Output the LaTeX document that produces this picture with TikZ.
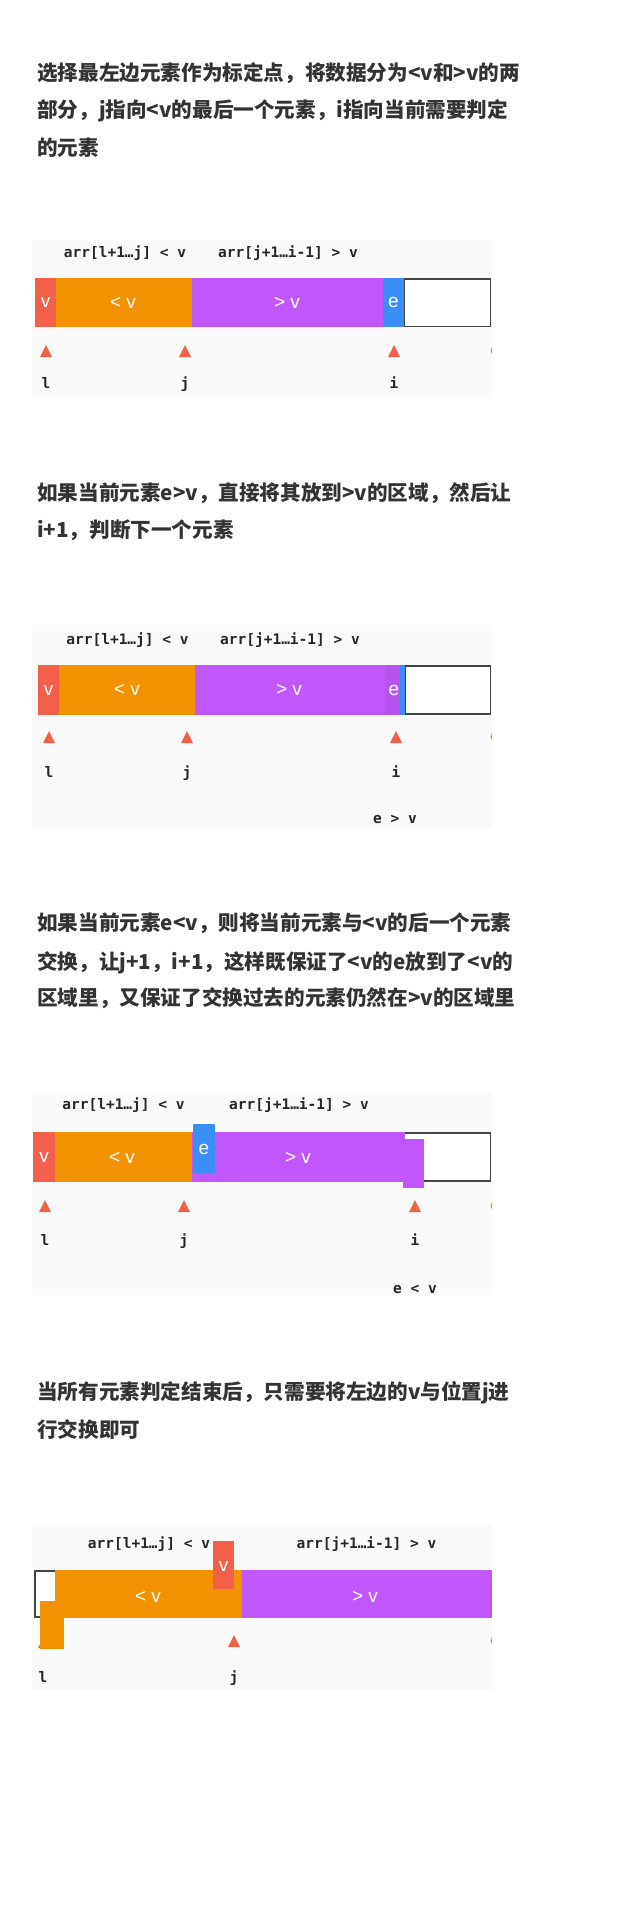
\documentclass[tikz,border=0pt]{standalone}
\usepackage{fontspec}
\newfontfamily\cjk{Noto Sans CJK SC}
\newfontfamily\monof{DejaVu Sans Mono}
\newfontfamily\cellf{Liberation Sans}
\definecolor{cred}{HTML}{F26049}
\definecolor{corange}{HTML}{F39200}
\definecolor{cpurple}{HTML}{C157FA}
\definecolor{cpurpled}{HTML}{B853EE}
\definecolor{cblue}{HTML}{3A8EF6}
\definecolor{cpanel}{HTML}{FAFAFA}
\definecolor{cline}{HTML}{444444}
\definecolor{ctxt}{HTML}{333333}
\definecolor{ccode}{HTML}{262626}
\newcommand\pivottri[2]{\fill[cred] (#1-6,#2+6) -- (#1,#2-6) -- (#1+6,#2+6) -- cycle;}
\begin{document}
\begin{tikzpicture}[x=1pt,y=-1pt,
  para/.style={anchor=base west, inner sep=0pt, text=ctxt, font=\cjk\bfseries\fontsize{20.6}{24}\selectfont},
  code/.style={anchor=base, inner sep=0pt, text=ccode, font=\monof\bfseries\fontsize{14.5}{16}\selectfont},
  celltxt/.style={anchor=center, inner sep=0pt, text=white, font=\cellf\fontsize{19}{20}\selectfont},
  panel/.style={fill=cpanel},
  emptybox/.style={draw=cline, line width=1.8pt, fill=white}]
\useasboundingbox (0,0) rectangle (640,1924);
\fill[white] (0,0) rectangle (640,1924);

% ---------- block 1 ----------
\node[para] (t1a) at (37,80.5) {选择最左边元素作为标定点，将数据分为<v和>v的两};
\node[para] (t1b) at (37,117.5) {部分，j指向<v的最后一个元素，i指向当前需要判定};
\node[para] (t1c) at (37,155.5) {的元素};

\fill[panel] (32,240) rectangle (492,397);
\node[code] (d1la) at (125,257) {arr[l+1…j] < v};
\node[code] (d1lb) at (288,257) {arr[j+1…i-1] > v};
\draw[emptybox] (404,279) rectangle (490.5,326.5);
\fill[cred] (35,278) rectangle (56,327);
\fill[corange] (56,278) rectangle (192,327);
\fill[cpurple] (192,278) rectangle (383,327);
\fill[cblue] (383,278) rectangle (404,327);
\node[celltxt] (d1v) at (45.5,302.5) {v};
\node[celltxt] (d1lt) at (123,302.5) {< v};
\node[celltxt] (d1gt) at (287,302.5) {> v};
\node[celltxt] (d1e) at (393.5,302.5) {e};
\pivottri{46}{351}
\pivottri{185}{351}
\pivottri{394}{351}
\fill[corange] (490.5,351) -- (492,347) -- (492,354) -- cycle;
\node[code] (d1l) at (46,388) {l};
\node[code] (d1j) at (185,388) {j};
\node[code] (d1i) at (394,388) {i};

% ---------- block 2 ----------
\node[para] (t2a) at (37,500.5) {如果当前元素e>v，直接将其放到>v的区域，然后让};
\node[para] (t2b) at (37,537.5) {i+1，判断下一个元素};

\fill[panel] (32,625) rectangle (492,828);
\node[code] (d2la) at (127.5,644) {arr[l+1…j] < v};
\node[code] (d2lb) at (290,644) {arr[j+1…i-1] > v};
\draw[emptybox] (405,666) rectangle (490.5,714);
\fill[cred] (38,665) rectangle (59,715);
\fill[corange] (59,665) rectangle (195,715);
\fill[cpurple] (195,665) rectangle (385,715);
\fill[cpurpled] (385,665) rectangle (400,715);
\fill[cblue] (400,665) rectangle (405,715);
\node[celltxt] (d2v) at (48.5,690) {v};
\node[celltxt] (d2lt) at (127,690) {< v};
\node[celltxt] (d2gt) at (289,690) {> v};
\node[celltxt] (d2e) at (394,690) {e};
\pivottri{49}{737}
\pivottri{187}{737}
\pivottri{396}{737}
\fill[corange] (490.5,737) -- (492,733) -- (492,740) -- cycle;
\node[code] (d2l) at (49,777) {l};
\node[code] (d2j) at (187,777) {j};
\node[code] (d2i) at (396,777) {i};
\node[code] (d2c) at (395,823) {e > v};

% ---------- block 3 ----------
\node[para] (t3a) at (37,930.5) {如果当前元素e<v，则将当前元素与<v的后一个元素};
\node[para] (t3b) at (37,969) {交换，让j+1，i+1，这样既保证了<v的e放到了<v的};
\node[para] (t3c) at (37,1005.5) {区域里，又保证了交换过去的元素仍然在>v的区域里};

\fill[panel] (32,1093) rectangle (492,1295);
\node[code] (d3la) at (123.5,1109) {arr[l+1…j] < v};
\node[code] (d3lb) at (299,1109) {arr[j+1…i-1] > v};
\draw[emptybox] (385,1133) rectangle (490.5,1181);
\fill[cred] (33,1132) rectangle (55,1182);
\fill[corange] (55,1132) rectangle (192,1182);
\fill[cpurple] (192,1132) rectangle (405,1182);
\fill[cpurple] (403,1139) rectangle (424,1188);
\fill[cblue, rounded corners=1pt] (193,1124) rectangle (215,1173);
\node[celltxt] (d3v) at (44,1157) {v};
\node[celltxt] (d3lt) at (122,1158) {< v};
\node[celltxt] (d3gt) at (298,1158) {> v};
\node[celltxt] (d3e) at (204,1149) {e};
\pivottri{45}{1206}
\pivottri{184}{1206}
\pivottri{415}{1206}
\fill[corange] (490.5,1206) -- (492,1202) -- (492,1209) -- cycle;
\node[code] (d3l) at (45,1245) {l};
\node[code] (d3j) at (184,1245) {j};
\node[code] (d3i) at (415,1245) {i};
\node[code] (d3c) at (415,1293) {e < v};

% ---------- block 4 ----------
\node[para] (t4a) at (37,1399.5) {当所有元素判定结束后，只需要将左边的v与位置j进};
\node[para] (t4b) at (37,1437.5) {行交换即可};

\fill[panel] (32,1525) rectangle (492,1690);
\node[code] (d4la) at (149,1548) {arr[l+1…j] < v};
\node[code] (d4lb) at (366.5,1548) {arr[j+1…i-1] > v};
\draw[emptybox] (35,1571) rectangle (56,1617);
\pivottri{44}{1642}
\fill[corange] (55,1570) rectangle (242,1618);
\fill[corange] (40,1601) rectangle (64,1649);
\fill[cpurple] (242,1570) rectangle (492,1618);
\fill[cred] (213,1541) rectangle (234,1589);
\node[celltxt] (d4v) at (223.5,1566) {v};
\node[celltxt] (d4lt) at (148,1597) {< v};
\node[celltxt] (d4gt) at (365,1597) {> v};
\pivottri{234}{1641}
\fill[corange] (490.5,1641) -- (492,1637) -- (492,1644) -- cycle;
\node[code] (d4l) at (43,1682) {l};
\node[code] (d4j) at (234,1682) {j};
\end{tikzpicture}
\end{document}
